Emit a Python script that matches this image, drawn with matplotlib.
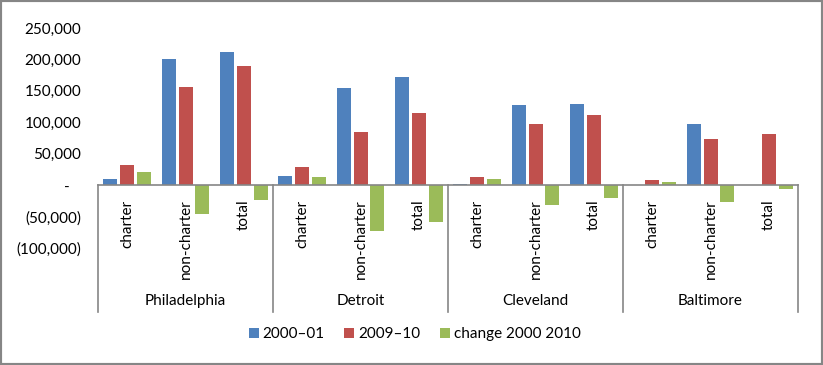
import numpy as np
import matplotlib
matplotlib.use("Agg")
import matplotlib.pyplot as plt
from matplotlib.patches import Rectangle

# data
cities = ["Philadelphia", "Detroit", "Cleveland", "Baltimore"]
school_types = ["charter", "non-charter", "total"]
series_names = ["2000\u201301", "2009\u201310", "change 2000 2010"]
enroll_2000 = [10000, 201000, 212500, 14500, 155000, 172500, 2500, 128000, 129500, 0, 97500, 0]
enroll_2009 = [32500, 156500, 190000, 28750, 84500, 115000, 13000, 97500, 112000, 8000, 73500, 81500]
change = [21000, -45500, -23500, 13000, -73000, -58500, 10000, -31000, -21000, 5000, -26500, -6000]
ytick_values = [250000, 200000, 150000, 100000, 50000, 0, -50000, -100000]
ytick_labels = ["250,000", "200,000", "150,000", "100,000", "50,000", "-   ", "(50,000)", "(100,000)"]

colors = ["#4F81BD", "#C0504D", "#9BBB59"]
gray = "#868686"
fs = 11

plt.rcParams["font.family"] = ["Lato", "DejaVu Sans"]

fig = plt.figure(figsize=(8.23, 3.65), dpi=100)
ax = fig.add_axes([98 / 823, 117 / 365, 700 / 823, 220 / 365])

x = np.arange(len(enroll_2000))
step = 0.29
width = 0.24
all_series = [enroll_2000, enroll_2009, change]
for i in range(3):
    ax.bar(x + (i - 1) * step, all_series[i], width, color=colors[i], label=series_names[i])

ax.set_xlim(-0.5, len(x) - 0.5)
ax.set_ylim(-100000, 250000)

# category axis sits on zero
for s in ["top", "right", "left"]:
    ax.spines[s].set_visible(False)
ax.spines["bottom"].set_position(("data", 0))
ax.spines["bottom"].set_color(gray)
ax.spines["bottom"].set_linewidth(1.2)

ax.set_xticks(x)
ax.set_xticklabels(school_types * len(cities), rotation=90, va="top", ha="center", fontsize=fs)
ax.tick_params(axis="x", length=0, pad=10.5)

ax.set_yticks(ytick_values)
ax.set_yticklabels(ytick_labels, fontsize=fs)
ax.tick_params(axis="y", length=0, pad=12)

# group separators and city names
zero_frac = (0 - ax.get_ylim()[0]) / (ax.get_ylim()[1] - ax.get_ylim()[0])
trans = ax.get_xaxis_transform()
for k in range(len(cities) + 1):
    sx = k * 3 - 0.5
    ax.plot([sx, sx], [zero_frac, -0.29], color=gray, lw=1.2, transform=trans, clip_on=False)
for k, city in enumerate(cities):
    ax.text(k * 3 + 1, -0.24, city, transform=trans, ha="center", va="center", fontsize=fs)

fig.legend(loc="center", bbox_to_anchor=(0.504, 0.085), ncol=3, frameon=False,
           fontsize=fs, handlelength=0.65, handleheight=0.65, handletextpad=0.25, columnspacing=1.3)

# outer border
fig.patches.append(Rectangle((0, 0), 1, 1, transform=fig.transFigure, fill=False,
                             edgecolor=gray, linewidth=3))

fig.savefig("out.png", dpi=100)
